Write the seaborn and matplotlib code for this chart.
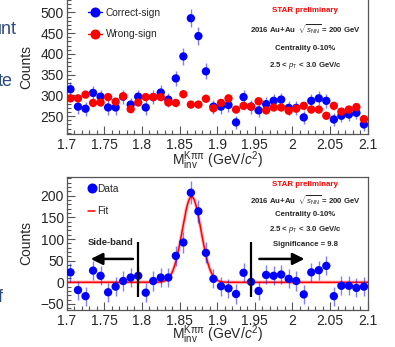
import numpy as np
import pandas as pd
import matplotlib
matplotlib.use("Agg")
import matplotlib.pyplot as plt
from matplotlib.lines import Line2D
from matplotlib.ticker import MultipleLocator, FuncFormatter
import seaborn as sns

# bin centres of the K pi pi invariant mass (GeV/c^2)
mass = [1.705, 1.715, 1.725, 1.735, 1.745, 1.755, 1.765, 1.775, 1.785, 1.795,
        1.805, 1.815, 1.825, 1.835, 1.845, 1.855, 1.865, 1.875, 1.885, 1.895,
        1.905, 1.915, 1.925, 1.935, 1.945, 1.955, 1.965, 1.975, 1.985, 1.995,
        2.005, 2.015, 2.025, 2.035, 2.045, 2.055, 2.065, 2.075, 2.085, 2.095]

# top panel: raw counts
correct_sign = [315, 273, 268, 306, 297, 271, 271, 297, 278, 297,
                271, 296, 307, 290, 341, 394, 486, 443, 358, 273,
                273, 277, 235, 296, 273, 264, 279, 287, 290, 270,
                270, 247, 287, 293, 287, 242, 251, 254, 258, 230]
correct_err = [17, 17, 17, 17, 17, 17, 17, 17, 17, 17,
               17, 17, 17, 17, 18, 20, 22, 21, 19, 17,
               17, 17, 16, 17, 17, 17, 17, 17, 17, 17,
               17, 16, 17, 17, 17, 16, 16, 16, 16, 15]
wrong_sign = [293, 293, 302, 282, 283, 296, 285, 298, 267, 283,
              296, 296, 296, 283, 282, 303, 278, 278, 292, 269,
              282, 293, 266, 275, 273, 286, 264, 271, 271, 263,
              268, 275, 266, 266, 251, 275, 261, 266, 272, 243]
wrong_err = [9] * 40

# bottom panel: wrong-sign subtracted
signal = [23, -18, -32, 27, 15, -23, -10, 3, 11, 15,
          -24, 3, 11, 11, 61, 92, 207, 164, 68, 8,
          -9, -14, -27, 22, 1, -20, 17, 15, 18, 8,
          3, -28, 23, 28, 38, -32, -8, -8, -13, -10]
signal_err = [22, 22, 22, 22, 22, 22, 22, 22, 22, 22,
              22, 22, 22, 22, 23, 24, 27, 26, 24, 22,
              22, 22, 22, 22, 22, 22, 22, 22, 22, 22,
              22, 22, 22, 22, 22, 22, 22, 22, 22, 22]

# gaussian + constant fit
fit_amp, fit_mean, fit_sigma, fit_base = 198, 1.866, 0.0125, 0

sideband_edges = [1.795, 1.945]

top_text = ["2016 Au+Au  $\\sqrt{s_{\\rm NN}}$ = 200 GeV", "Centrality 0-10%",
            "2.5 < $p_{\\rm T}$ < 3.0 GeV/c"]
bottom_text = top_text + ["Significance = 9.8"]

sns.set_style("white")
plt.rcParams["font.family"] = ["Liberation Sans", "DejaVu Sans"]
plt.rcParams["mathtext.fontset"] = "custom"
plt.rcParams["mathtext.rm"] = "Liberation Sans"
plt.rcParams["mathtext.it"] = "Liberation Sans:italic"
plt.rcParams["mathtext.bf"] = "Liberation Sans:bold"

BLUE = "#0000ff"
RED = "#ff0000"
xlabel = "$\\mathrm{M}_{\\mathrm{inv}}^{\\mathrm{Kππ}}$ (GeV/$c^{2}$)"

fig = plt.figure(figsize=(3.95, 3.47), dpi=100)
ax1 = fig.add_axes([0.1689, 0.6138, 0.762, 0.3862])
ax2 = fig.add_axes([0.1689, 0.1066, 0.762, 0.3842])


def style_axis(ax, ylim, ymajor, yminor):
    ax.set_xlim(1.7, 2.1)
    ax.set_ylim(*ylim)
    ax.xaxis.set_major_locator(MultipleLocator(0.05))
    ax.xaxis.set_minor_locator(MultipleLocator(0.01))
    ax.yaxis.set_major_locator(MultipleLocator(ymajor))
    ax.yaxis.set_minor_locator(MultipleLocator(yminor))
    ax.xaxis.set_major_formatter(FuncFormatter(lambda v, p: f"{v:g}"))
    ax.tick_params(which="both", direction="in", bottom=True, left=True,
                   labelsize=10, width=0.8, color="#555555")
    ax.tick_params(which="major", length=6)
    ax.tick_params(which="minor", length=3)
    ax.tick_params(axis="x", pad=3)
    ax.tick_params(axis="y", pad=2)
    for s in ax.spines.values():
        s.set_color("#555555")
        s.set_linewidth(0.9)
    ax.set_xlabel(xlabel, fontsize=10)
    ax.set_ylabel("Counts", fontsize=10)
    ax.xaxis.label.set_va("center")
    ax.yaxis.label.set_va("center")
    ax.yaxis.set_label_coords(-0.135, 0.5)


# ---- top panel
df_top = pd.DataFrame({"mass": mass, "correct": correct_sign, "wrong": wrong_sign})
ax1.errorbar(mass, correct_sign, yerr=correct_err, fmt="none", ecolor=BLUE,
             alpha=0.5, lw=1, zorder=2)
sns.scatterplot(data=df_top, x="mass", y="correct", color=BLUE, s=36,
                edgecolor="none", ax=ax1, zorder=3)
ax1.errorbar(mass, wrong_sign, yerr=wrong_err, fmt="none", ecolor=RED,
             alpha=0.5, lw=1, zorder=4)
sns.scatterplot(data=df_top, x="mass", y="wrong", color=RED, s=36,
                edgecolor="none", ax=ax1, zorder=5)
style_axis(ax1, (207, 530), 50, 10)
ax1.xaxis.set_label_coords(0.5, -0.2)
ax1.spines["top"].set_visible(False)

handles = [Line2D([], [], color=BLUE, marker="o", markersize=6.2, lw=1),
           Line2D([], [], color=RED, marker="o", markersize=6.2, lw=1)]
ax1.legend(handles, ["Correct-sign", "Wrong-sign"], loc="upper left",
           bbox_to_anchor=(0.072, 0.94), frameon=False, fontsize=7.3,
           handlelength=1.3, handletextpad=0.4, labelspacing=1.1,
           borderpad=0, borderaxespad=0)

ax1.text(0.792, 0.918, "STAR preliminary", color=RED, fontsize=5.7,
         fontweight="bold", ha="center", va="center", transform=ax1.transAxes)
for txt, yy in zip(top_text, [0.781, 0.640, 0.510]):
    ax1.text(0.792, yy, txt, fontsize=5.6, fontweight="bold",
             ha="center", va="center", transform=ax1.transAxes)

# ---- bottom panel
df_bot = pd.DataFrame({"mass": mass, "signal": signal})
xfit = np.linspace(1.7, 2.1, 500)
yfit = fit_base + fit_amp * np.exp(-0.5 * ((xfit - fit_mean) / fit_sigma) ** 2)
df_fit = pd.DataFrame({"x": xfit, "y": yfit})
ax2.plot(xfit, yfit, color=RED, lw=2.6, alpha=0.25, zorder=1)
sns.lineplot(data=df_fit, x="x", y="y", color=RED, lw=1.1, ax=ax2, zorder=2)
ax2.errorbar(mass, signal, yerr=signal_err, fmt="none", ecolor=BLUE,
             alpha=0.5, lw=1, zorder=3)
sns.scatterplot(data=df_bot, x="mass", y="signal", color=BLUE, s=36,
                edgecolor="none", ax=ax2, zorder=4)
style_axis(ax2, (-64, 244), 50, 10)
ax2.xaxis.set_label_coords(0.5, -0.185)

ax2.vlines(sideband_edges, -35, 92, color="black", lw=1.6, zorder=5)
ax2.annotate("", xy=(1.732, 54), xytext=(1.788, 54),
             arrowprops=dict(arrowstyle="-|>,head_length=0.7,head_width=0.35",
                             color="black", lw=1.8, shrinkA=0, shrinkB=0))
ax2.annotate("", xy=(2.016, 54), xytext=(1.956, 54),
             arrowprops=dict(arrowstyle="-|>,head_length=0.7,head_width=0.35",
                             color="black", lw=1.8, shrinkA=0, shrinkB=0))
ax2.text(1.758, 92, "Side-band", fontsize=6.8, fontweight="bold",
         ha="center", va="center")

handles2 = [Line2D([], [], color=BLUE, marker="o", markersize=6.2, lw=0),
            Line2D([], [], color=RED, lw=1.1)]
ax2.legend(handles2, ["Data", "Fit"], loc="upper left",
           bbox_to_anchor=(0.071, 0.945), frameon=False, fontsize=7.3,
           handlelength=0.7, handletextpad=0.15, labelspacing=1.2,
           borderpad=0, borderaxespad=0)

ax2.text(0.792, 0.938, "STAR preliminary", color=RED, fontsize=5.7,
         fontweight="bold", ha="center", va="center", transform=ax2.transAxes)
for txt, yy in zip(bottom_text, [0.825, 0.720, 0.602, 0.488]):
    ax2.text(0.792, yy, txt, fontsize=5.6, fontweight="bold",
             ha="center", va="center", transform=ax2.transAxes)

# remnants of the slide text to the left of the figure
slide_col = "#2f4b7c"
fig.text(17 / 395, 1 - 30 / 347, "unt", color=slide_col, fontsize=13,
         ha="right", va="center")
fig.text(13 / 395, 1 - 81 / 347, "te", color=slide_col, fontsize=13,
         ha="right", va="center")
fig.text(3 / 395, 1 - 297 / 347, "f", color=slide_col, fontsize=13,
         ha="right", va="center")

fig.savefig("out.png", dpi=100)
